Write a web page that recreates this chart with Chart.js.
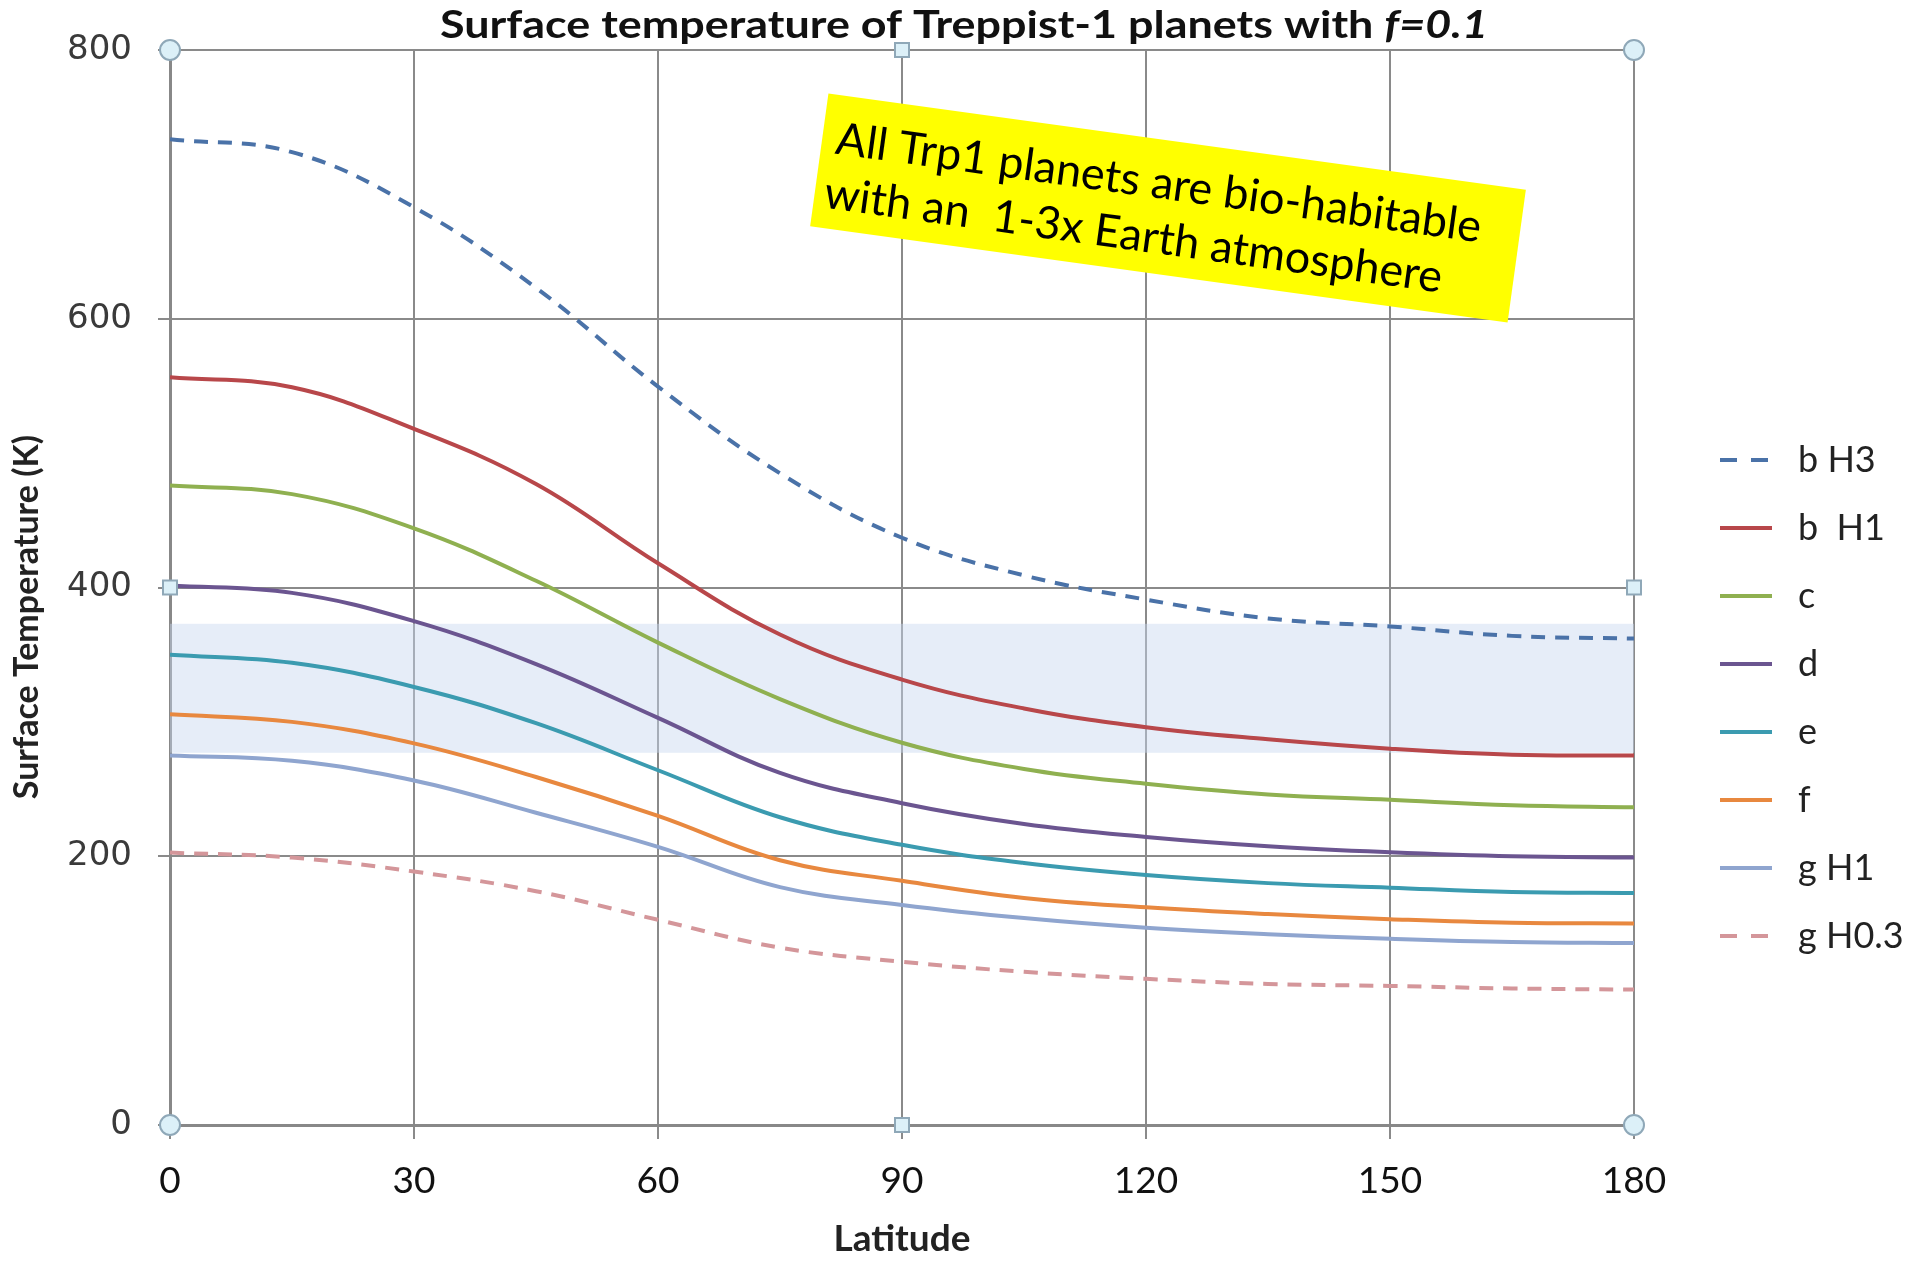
<!DOCTYPE html>
<html>
<head>
<meta charset="utf-8">
<title>Surface temperature of Treppist-1 planets</title>
<script src="https://cdn.jsdelivr.net/npm/chart.js@4"></script>
<style>
  html, body { margin: 0; padding: 0; background: #fff; }
  #wrap { width: 1915px; height: 1261px; position: relative; }
</style>
</head>
<body>
<div id="wrap"><canvas id="temps"></canvas></div>
<script>
// latitude (deg) along the x axis
const latitudes = [0, 15, 30, 45, 60, 75, 90, 105, 120, 135, 150, 165, 180];

// surface temperature (K) per planet / atmosphere
const bH3  = [733.5, 724, 683, 623, 549.5, 485, 437, 409, 391, 377, 371, 364, 362];
const bH1  = [556.5, 549, 518, 477, 418, 365, 331.5, 310, 296, 287, 280, 275.5, 275];
const cT   = [476, 469.5, 444, 405, 359, 317, 284.5, 265, 254, 246, 242, 238, 236.4];
const dT   = [401.5, 396, 375, 343, 303, 262, 239.5, 224, 214.4, 207.5, 203, 200, 199];
const eT   = [350, 344, 326, 299, 264, 229, 208.5, 195, 186, 180, 176.6, 173.4, 172.6];
const fT   = [305.6, 300, 284, 259, 230, 197, 181.7, 169, 162, 157, 153.2, 150.5, 150];
const gH1  = [275, 271, 256.4, 232.4, 207, 177, 163.8, 154, 146.8, 142, 138.6, 136.2, 135.4];
const gH03 = [202.7, 199, 188.6, 174, 152.7, 132, 121.5, 114, 108.8, 105, 103.5, 101.6, 100.8];

const seriesLabels = ['b H3', 'b  H1', 'c', 'd', 'e', 'f', 'g H1', 'g H0.3'];
const seriesValues = [bH3, bH1, cT, dT, eT, fT, gH1, gH03];
const seriesColors = ['#4a72a8', '#b8474a', '#8fb050', '#6b5590', '#3b9bb0', '#e8883f', '#8fa5cf', '#d4969a'];
const seriesDashed = [true, false, false, false, false, false, false, true];

// liquid water band (K)
const waterLow = 277;
const waterHigh = 373;

const noteLines = ['All Trp1 planets are bio-habitable', 'with an  1-3x Earth atmosphere'];

const datasets = seriesLabels.map((label, i) => ({
  label: label,
  data: latitudes.map((lat, j) => ({ x: lat, y: seriesValues[i][j] })),
  borderColor: seriesColors[i],
  backgroundColor: seriesColors[i],
  borderWidth: 4,
  borderDash: seriesDashed[i] ? [14, 10] : [],
  pointRadius: 0,
  tension: 0.4,
  fill: false
}));

const waterBand = {
  id: 'waterBand',
  beforeDatasetsDraw(chart) {
    const { ctx, chartArea, scales } = chart;
    const top = scales.y.getPixelForValue(waterHigh);
    const bottom = scales.y.getPixelForValue(waterLow);
    ctx.save();
    ctx.fillStyle = 'rgba(200, 215, 240, 0.45)';
    ctx.fillRect(chartArea.left, top, chartArea.right - chartArea.left, bottom - top);
    ctx.restore();
  }
};

const extras = {
  id: 'extras',
  afterDraw(chart) {
    const { ctx, chartArea } = chart;
    const a = chartArea;
    ctx.save();

    // little handles round the plot frame
    const midX = (a.left + a.right) / 2;
    const midY = (a.top + a.bottom) / 2;
    ctx.fillStyle = '#dcf0f8';
    ctx.strokeStyle = '#8fa8b8';
    ctx.lineWidth = 2;
    [[a.left, a.top], [a.right, a.top], [a.left, a.bottom], [a.right, a.bottom]].forEach(([x, y]) => {
      ctx.beginPath();
      ctx.arc(x, y, 10, 0, Math.PI * 2);
      ctx.fill();
      ctx.stroke();
    });
    [[midX, a.top], [midX, a.bottom], [a.left, midY], [a.right, midY]].forEach(([x, y]) => {
      ctx.fillRect(x - 7, y - 7, 14, 14);
      ctx.strokeRect(x - 7, y - 7, 14, 14);
    });

    // title, widened a little to span the plot like the original heading
    ctx.fillStyle = '#111';
    ctx.textBaseline = 'middle';
    ctx.textAlign = 'left';
    const t1 = 'Surface temperature of Treppist-1 planets with ';
    const t2 = 'f=0.1';
    ctx.font = 'bold 38px Lato';
    const w1 = ctx.measureText(t1).width;
    ctx.font = 'italic bold 38px Lato';
    const w2 = ctx.measureText(t2).width;
    const stretch = 1048 / (w1 + w2);
    ctx.save();
    ctx.translate(440, 26);
    ctx.scale(stretch, 1);
    ctx.font = 'bold 38px Lato';
    ctx.fillText(t1, 0, 0);
    ctx.font = 'italic bold 38px Lato';
    ctx.fillText(t2, w1, 0);
    ctx.restore();

    // y axis title, sitting a bit below the plot centre
    ctx.save();
    ctx.translate(27, 617);
    ctx.rotate(-Math.PI / 2);
    ctx.textAlign = 'center';
    ctx.fillStyle = '#222';
    ctx.font = 'bold 34px Lato';
    ctx.fillText('Surface Temperature (K)', 0, 0);
    ctx.restore();

    // legend
    ctx.font = '36px Lato';
    ctx.lineWidth = 4;
    chart.data.datasets.forEach((ds, i) => {
      const y = 460 + i * 68;
      ctx.strokeStyle = ds.borderColor;
      ctx.setLineDash(ds.borderDash.length ? [17, 14] : []);
      ctx.beginPath();
      ctx.moveTo(1720, y);
      ctx.lineTo(1772, y);
      ctx.stroke();
      ctx.fillStyle = '#222';
      ctx.fillText(ds.label, 1798, y);
    });
    ctx.setLineDash([]);

    // yellow note
    ctx.translate(1168, 208);
    ctx.rotate(7.84 * Math.PI / 180);
    ctx.fillStyle = '#ffff00';
    ctx.fillRect(-352, -67, 704, 134);
    ctx.fillStyle = '#000';
    ctx.font = '45px Lato';
    ctx.fillText(noteLines[0], -338, -23);
    ctx.fillText(noteLines[1], -342, 32);

    ctx.restore();
  }
};

new Chart(document.getElementById('temps'), {
  type: 'line',
  data: { datasets: datasets },
  plugins: [waterBand, extras],
  options: {
    responsive: true,
    maintainAspectRatio: false,
    animation: false,
    layout: { padding: { top: 50, right: 281, left: 0, bottom: 0 } },
    plugins: {
      legend: { display: false },
      tooltip: { enabled: false }
    },
    scales: {
      x: {
        type: 'linear',
        min: 0,
        max: 180,
        afterFit(scale) { scale.height = 136; },
        ticks: {
          stepSize: 30,
          color: '#111',
          padding: 20,
          font: { family: 'Lato', size: 37 }
        },
        grid: { color: '#8a8a8a', lineWidth: 2, tickLength: 14 },
        border: { color: '#888', width: 3 },
        title: {
          display: true,
          text: 'Latitude',
          color: '#222',
          font: { family: 'Lato', weight: 'bold', size: 37 },
          padding: { top: 0, bottom: 0 }
        }
      },
      y: {
        min: 0,
        max: 800,
        afterFit(scale) { scale.width = 170; },
        ticks: {
          stepSize: 200,
          color: '#3a3a3a',
          padding: 26,
          font: { family: 'DejaVu Sans', size: 34 }
        },
        grid: { color: '#8a8a8a', lineWidth: 2, tickLength: 12 },
        border: { color: '#888', width: 3 }
      }
    }
  }
});
</script>
</body>
</html>
